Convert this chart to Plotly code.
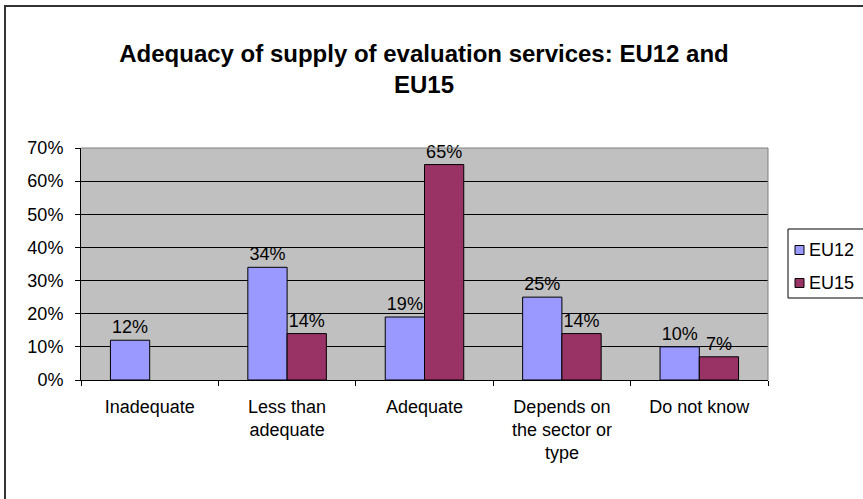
import plotly.graph_objects as go

categories = ["Inadequate", "Less than<br>adequate", "Adequate", "Depends on<br>the sector or<br>type", "Do not know"]
eu12 = [12, 34, 19, 25, 10]
eu15 = [None, 14, 65, 14, 7]
series_names = ["EU12", "EU15"]
series_colors = ["#9999FF", "#993366"]
y_ticks = [0, 10, 20, 30, 40, 50, 60, 70]
y_tick_labels = [f"{v}%" for v in y_ticks]
title_text = "Adequacy of supply of evaluation services: EU12 and<br>EU15"

W, H = 863, 499
L, R, T, B = 81, 863 - 768, 148, 499 - 380
PW, PH = W - L - R, H - T - B

FONT = "Liberation Sans, Arial, sans-serif"


def px_x(x):
    return (x - L) / PW


def px_y(y):
    return (380 - y) / PH


fig = go.Figure()
for name, vals, color in zip(series_names, [eu12, eu15], series_colors):
    fig.add_trace(go.Bar(
        x=categories, y=vals, name=name,
        marker=dict(color=color, line=dict(color="black", width=1)),
        text=[f"{v}%" if v is not None else "" for v in vals],
        textposition="outside", cliponaxis=False,
        textfont=dict(family=FONT, size=18, color="black"),
    ))

fig.update_layout(
    width=W, height=H,
    margin=dict(l=L, r=R, t=T, b=B, pad=0, autoexpand=False),
    paper_bgcolor="white", plot_bgcolor="#C0C0C0",
    barmode="group", bargap=1.5 / 3.5, bargroupgap=0,
    font=dict(family=FONT, size=18, color="black"),
    title=dict(text=title_text, x=424 / W, xanchor="center", xref="container",
               y=1 - 62 / H, yanchor="middle", yref="container",
               font=dict(family=FONT, size=24, color="black", weight="bold")),
    showlegend=False,
)
fig.update_xaxes(
    type="category", showline=True, linecolor="black", linewidth=1,
    ticks="outside", ticklen=5, tickcolor="black", tickson="boundaries",
    showgrid=False, ticklabelstandoff=10, tickangle=0,
    tickfont=dict(family=FONT, size=18, color="black"),
)
fig.update_yaxes(
    range=[0, 70], tickmode="array", tickvals=y_ticks, ticktext=y_tick_labels,
    showline=True, linecolor="black", linewidth=1,
    ticks="outside", ticklen=5, tickcolor="black",
    showgrid=True, gridcolor="black", gridwidth=1, zeroline=False,
    ticklabelstandoff=8,
    tickfont=dict(family=FONT, size=18, color="black"),
)
# plot area border (top and right, gray)
fig.add_shape(type="line", xref="paper", yref="paper", x0=0, x1=1, y0=1, y1=1,
              line=dict(color="#808080", width=1), layer="above")
fig.add_shape(type="line", xref="paper", yref="paper", x0=1, x1=1, y0=0, y1=1,
              line=dict(color="#808080", width=1), layer="above")
# outer chart frame
fig.add_shape(type="rect", xref="paper", yref="paper",
              x0=px_x(5), x1=px_x(880), y0=px_y(520), y1=px_y(6),
              line=dict(color="#333333", width=2), layer="below")

# legend (box, keys and labels)
fig.add_shape(type="rect", xref="paper", yref="paper",
              x0=px_x(788), x1=px_x(880), y0=px_y(298), y1=px_y(229),
              line=dict(color="black", width=1), fillcolor="white", layer="above")
for i, (name, color) in enumerate(zip(series_names, series_colors)):
    cy = 250 + 33 * i
    fig.add_shape(type="rect", xref="paper", yref="paper",
                  x0=px_x(795), x1=px_x(804), y0=px_y(cy + 4.5), y1=px_y(cy - 4.5),
                  line=dict(color="black", width=1), fillcolor=color, layer="above")
    fig.add_annotation(xref="paper", yref="paper", x=px_x(807), y=px_y(cy),
                       xanchor="left", yanchor="middle", text=name, showarrow=False,
                       font=dict(family=FONT, size=18, color="black"))

fig.write_html("out.html")
